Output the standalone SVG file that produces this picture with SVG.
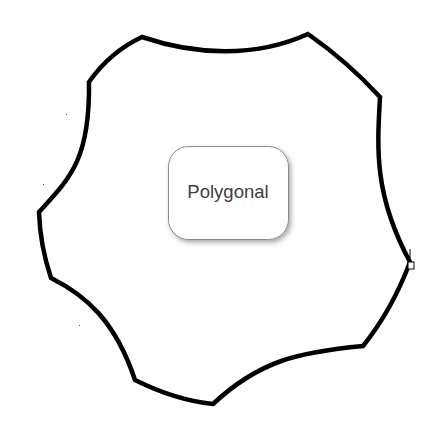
<svg xmlns="http://www.w3.org/2000/svg" width="441" height="426" viewBox="0 0 441 426">
<style>
.edge{fill:none;stroke:#000;stroke-width:4.5;stroke-linejoin:miter;stroke-linecap:butt}
.node{fill:#fff;stroke:#8a8a8a;stroke-width:1}
.label{font-family:"Liberation Sans",Arial,sans-serif;font-size:18.5px;fill:#404040;text-anchor:middle}
.handle{fill:#fff;stroke:#000;stroke-width:1}
.dot{fill:#555}
</style>
<defs>
<filter id="shadow" x="-20%" y="-20%" width="140%" height="140%">
<feDropShadow dx="2" dy="2.5" stdDeviation="2.5" flood-color="#000" flood-opacity="0.35"/>
</filter>
</defs>
<rect width="441" height="426" fill="#fff"/>
<g id="connectors">
<path class="edge" d="M142,37 C195,55 255,58 308,34 Q348,62 380,97 C377,150 374,195 410,262 Q392,310 363,346 C300,352 260,360 213,404 Q175,400 135,380 C115,320 85,295 51,278 Q40,245 39,212 C70,178 90,160 89,82 Q110,52 142,37 Z"/>
<line x1="410" y1="249" x2="410" y2="258" stroke="#000" stroke-width="1"/>
<rect class="handle" x="408" y="262" width="6" height="7"/>
<rect class="dot" x="66" y="114" width="1" height="1"/>
<rect class="dot" x="43" y="184" width="1" height="1"/>
<rect class="dot" x="79" y="325" width="1" height="1"/>
</g>
<g id="node-polygonal">
<rect class="node" x="168.5" y="146.5" width="120" height="93" rx="20" ry="20" filter="url(#shadow)"/>
<text class="label" x="228" y="198">Polygonal</text>
</g>
</svg>
